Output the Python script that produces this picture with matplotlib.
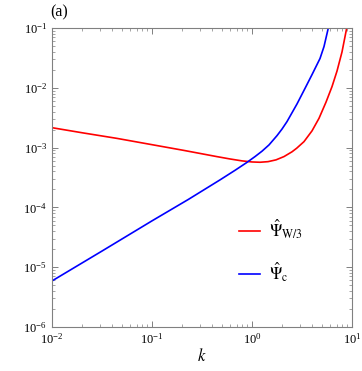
import matplotlib
matplotlib.use("Agg")
import matplotlib.pyplot as plt
from matplotlib.ticker import LogLocator, NullFormatter

# Data (log-log)
k_w = [0.01, 0.02056, 0.04436, 0.0955, 0.2056, 0.4436, 0.6026, 0.7943, 1.0,
       1.202, 1.445, 1.738, 2.089, 2.512, 2.799, 3.311, 3.981, 4.677, 5.495,
       6.310, 7.079, 7.943, 8.851]
psi_w = [2.153e-3, 1.758e-3, 1.429e-3, 1.135e-3, 9.016e-4, 7.079e-4, 6.457e-4,
         5.998e-4, 5.754e-4, 5.689e-4, 5.821e-4, 6.237e-4, 7.079e-4, 8.511e-4,
         9.772e-4, 1.259e-3, 1.905e-3, 3.090e-3, 5.754e-3, 1.047e-2, 1.905e-2,
         3.981e-2, 1.0e-1]

k_c = [0.01, 0.03162, 0.1, 0.2307, 0.4786, 0.6761, 0.8851, 1.072, 1.259, 1.479,
       1.778, 1.995, 2.239, 2.818, 3.388, 3.981, 4.786, 5.248, 5.794]
psi_c = [5.888e-6, 1.862e-5, 5.957e-5, 1.358e-4, 2.884e-4, 4.169e-4, 5.623e-4,
         7.079e-4, 8.710e-4, 1.109e-3, 1.585e-3, 2.042e-3, 2.723e-3, 5.370e-3,
         9.772e-3, 1.660e-2, 3.090e-2, 4.898e-2, 1.0e-1]

label_w = r"$\hat{\Psi}_{\mathrm{W}/3}$"
label_c = r"$\hat{\Psi}_{\mathrm{c}}$"

plt.rcParams["font.family"] = ["Liberation Serif", "DejaVu Serif"]
plt.rcParams["mathtext.fontset"] = "stix"

fig = plt.figure(figsize=(3.62, 3.71), dpi=100)
ax = fig.add_axes([0.1436, 0.1186, 0.8288, 0.8059])

ax.plot(k_w, psi_w, color="#ff0000", lw=1.2, label=label_w,
        solid_joinstyle="round")
ax.plot(k_c, psi_c, color="#0000ff", lw=1.2, label=label_c,
        solid_joinstyle="round")

ax.set_xscale("log")
ax.set_yscale("log")
ax.set_xlim(1e-2, 1e1)
ax.set_ylim(1e-6, 1e-1)

ax.xaxis.set_major_locator(LogLocator(base=10, numticks=10))
ax.yaxis.set_major_locator(LogLocator(base=10, numticks=10))
ax.xaxis.set_minor_locator(LogLocator(base=10, subs=range(2, 10), numticks=20))
ax.yaxis.set_minor_locator(LogLocator(base=10, subs=range(2, 10), numticks=20))
ax.xaxis.set_minor_formatter(NullFormatter())
ax.yaxis.set_minor_formatter(NullFormatter())

gray = "#808080"
for s in ax.spines.values():
    s.set_color(gray)
    s.set_linewidth(0.8)
ax.tick_params(which="both", direction="in", top=True, right=True, color=gray,
               labelsize=9, labelcolor="black")
ax.tick_params(which="major", length=4, width=0.7)
ax.tick_params(which="minor", length=2, width=0.5)

ax.set_xlabel(r"$k$", fontsize=12, labelpad=1)
fig.text(0.138, 0.967, "(a)", fontsize=11.5, ha="left", va="center")

ax.legend(loc="center left", bbox_to_anchor=(0.575, 0.255), frameon=False,
          fontsize=12, handlelength=1.25, labelspacing=1.2, handletextpad=0.5)

fig.savefig("out.png", dpi=100)
